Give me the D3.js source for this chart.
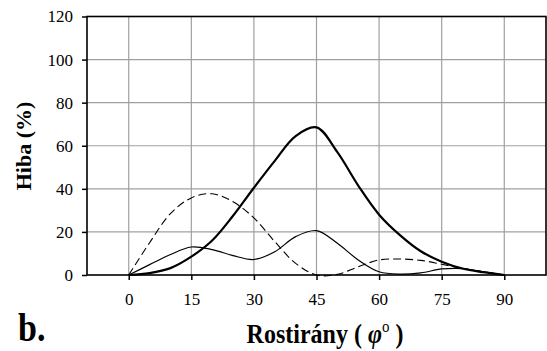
<!DOCTYPE html>
<html>
<head>
<meta charset="utf-8">
<script src="https://cdn.jsdelivr.net/npm/d3@7"></script>
<style>
  body { margin: 0; background: #fff; }
  svg { display: block; }
</style>
</head>
<body>
<svg id="chart" width="547" height="351"></svg>
<script>
// angle samples (deg) and the three error curves (%)
var angles   = [0, 5, 10, 15, 20, 25, 30, 35, 40, 45, 50, 55, 60, 65, 70, 75, 80, 85, 90];
var thick    = [0, 0.9, 3.2, 8.5, 16, 27.5, 40.5, 53, 64.5, 68.5, 57, 41.5, 28, 18.5, 11, 6.2, 3, 1.3, 0];
var thin     = [0, 4.8, 9.5, 13, 11.8, 9, 7.2, 10.8, 17.8, 20.6, 14.7, 7, 1.5, 0.4, 1, 2.8, 3, 1.5, 0];
var dashed   = [0, 15, 28.5, 35.8, 37.7, 34, 26.5, 15.5, 5.4, 0, 0.3, 3.8, 7, 7.4, 6.8, 5, 3.1, 1.5, 0];
var xTicks   = [0, 15, 30, 45, 60, 75, 90];
var yTicks   = [0, 20, 40, 60, 80, 100, 120];

var svg = d3.select('#chart'),
    plotL = 87, plotR = 546, plotT = 16.5, plotB = 275;

var x = d3.scaleLinear().domain([-10, 100]).range([plotL, plotR]),
    y = d3.scaleLinear().domain([0, 120]).range([plotB, plotT]);

// gridlines
svg.append('g').selectAll('line').data(xTicks).enter().append('line')
    .attr('x1', d => x(d)).attr('x2', d => x(d))
    .attr('y1', plotT).attr('y2', plotB)
    .attr('stroke', '#a0a0a0').attr('stroke-width', 1.2);
svg.append('g').selectAll('line').data(yTicks.slice(1)).enter().append('line')
    .attr('x1', plotL).attr('x2', plotR)
    .attr('y1', d => y(d)).attr('y2', d => y(d))
    .attr('stroke', '#a0a0a0').attr('stroke-width', 1.2);

// axes
var yAxis = svg.append('g').attr('transform', 'translate(' + plotL + ',0)')
    .call(d3.axisLeft(y).tickValues(yTicks).tickSize(5).tickPadding(9));
var xAxis = svg.append('g').attr('transform', 'translate(0,' + plotB + ')')
    .call(d3.axisBottom(x).tickValues(xTicks).tickSize(5).tickPadding(13));
[yAxis, xAxis].forEach(function (a) {
    a.select('.domain').remove();
    a.selectAll('line').attr('stroke', '#000').attr('stroke-width', 1.5);
    a.selectAll('text').attr('font-family', '"Liberation Serif", serif')
        .attr('font-size', 17).attr('fill', '#000');
});

// frame
svg.append('rect')
    .attr('x', plotL).attr('y', plotT)
    .attr('width', plotR - plotL).attr('height', plotB - plotT)
    .attr('fill', 'none').attr('stroke', '#000').attr('stroke-width', 1.6);

// curves
var line = d3.line()
    .x(function (d, i) { return x(angles[i]); })
    .y(function (d) { return y(Math.max(0, d)); })
    .curve(d3.curveCatmullRom.alpha(0.5));

svg.append('path').attr('d', line(dashed))
    .attr('fill', 'none').attr('stroke', '#000').attr('stroke-width', 1.1)
    .attr('stroke-dasharray', '8,4');
svg.append('path').attr('d', line(thin))
    .attr('fill', 'none').attr('stroke', '#000').attr('stroke-width', 1.2);
svg.append('path').attr('d', line(thick))
    .attr('fill', 'none').attr('stroke', '#000').attr('stroke-width', 2.2);

// labels
svg.append('text')
    .attr('transform', 'translate(31,146) rotate(-90)')
    .attr('text-anchor', 'middle')
    .attr('font-family', '"Liberation Serif", serif').attr('font-weight', 'bold')
    .attr('font-size', 22)
    .text('Hiba (%)');

var xl = svg.append('text')
    .attr('transform', 'translate(325,343) scale(1,1.1)')
    .attr('text-anchor', 'middle')
    .attr('font-family', '"Liberation Serif", serif').attr('font-weight', 'bold')
    .attr('font-size', 24);
xl.append('tspan').text('Rostirány ( ');
xl.append('tspan').attr('font-style', 'italic').text('φ');
xl.append('tspan').attr('font-size', 15).attr('dy', -10).attr('font-weight', 'normal').text('o');
xl.append('tspan').attr('dy', 10).text(' )');

svg.append('text')
    .attr('transform', 'translate(18,341) scale(1,1.2)')
    .attr('font-family', '"Liberation Serif", serif').attr('font-weight', 'bold')
    .attr('font-size', 34)
    .text('b.');
</script>
</body>
</html>
